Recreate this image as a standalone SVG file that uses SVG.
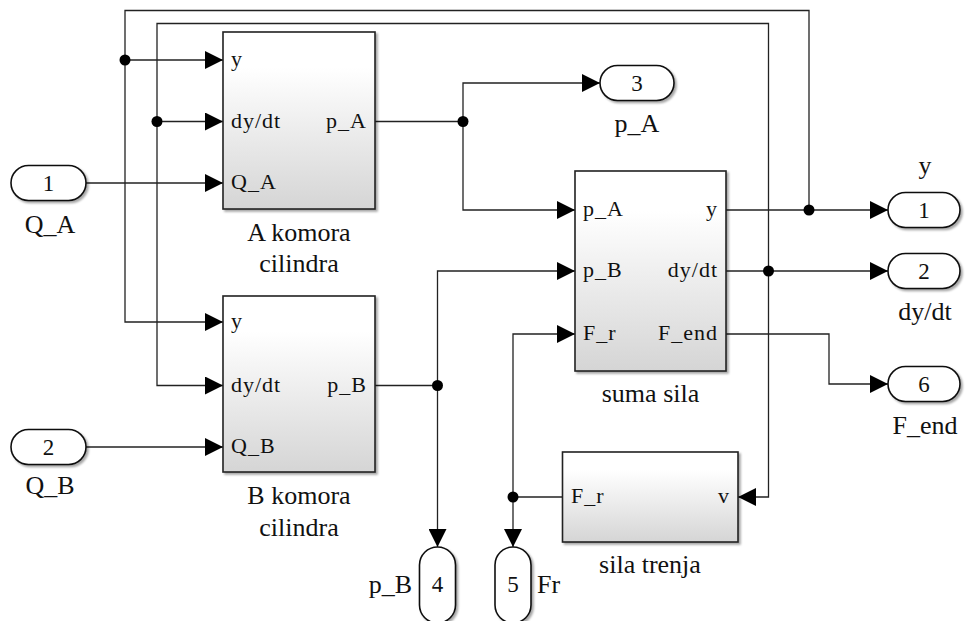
<svg xmlns="http://www.w3.org/2000/svg" width="966" height="621" viewBox="0 0 966 621">
<style>
  text { fill: #111; }
  .port { font-size: 22px; letter-spacing: 1px; }
  .lbl { font-size: 26px; }
  .num { font-size: 23px; text-anchor: middle; }
  .mid { text-anchor: middle; }
  .end { text-anchor: end; }
  .blk { fill: url(#g); stroke: #222; stroke-width: 1.6; filter: url(#sh); }
  .io { fill: #fff; stroke: #111; stroke-width: 1.6; filter: url(#sh); }
  .ln { fill: none; stroke: #222; stroke-width: 1.3; }
  .arr { marker-end: url(#ah); }
  .dot { fill: #000; }
</style>
<defs>
  <linearGradient id="g" x1="0" y1="0" x2="0" y2="1">
    <stop offset="0.2" stop-color="#ffffff"/>
    <stop offset="1" stop-color="#d5d5d5"/>
  </linearGradient>
  <filter id="sh" x="-10%" y="-10%" width="130%" height="130%">
    <feDropShadow dx="2" dy="2" stdDeviation="1.2" flood-color="#000" flood-opacity="0.35"/>
  </filter>
  <marker id="ah" markerUnits="userSpaceOnUse" markerWidth="19" markerHeight="18" refX="18" refY="9" orient="auto">
    <path d="M0,0 L18,9 L0,18 z" fill="#000"/>
  </marker>
</defs>

<g id="connectors">
  <path class="ln arr" d="M86,183 H223"/>
  <path class="ln arr" d="M86,447 H223"/>
  <path class="ln" d="M375,121.5 H463"/>
  <path class="ln arr" d="M463,121.5 V83 H600"/>
  <path class="ln arr" d="M463,121.5 V210 H575"/>
  <path class="ln" d="M375,385.5 H437.5"/>
  <path class="ln arr" d="M437.5,385.5 V271 H575"/>
  <path class="ln arr" d="M437.5,385.5 V547"/>
  <path class="ln arr" d="M726,210 H888"/>
  <path class="ln arr" d="M809,210 V10.5 H125 V322 H223"/>
  <path class="ln arr" d="M125,60 H223"/>
  <path class="ln arr" d="M726,271 H888"/>
  <path class="ln arr" d="M768.5,271 V23.5 H157 V385.5 H223"/>
  <path class="ln arr" d="M157,121.5 H223"/>
  <path class="ln arr" d="M768.5,271 V497 H738"/>
  <path class="ln arr" d="M726,334 H829 V384 H888"/>
  <path class="ln" d="M562.5,497 H513"/>
  <path class="ln arr" d="M513,497 V334 H575"/>
  <path class="ln arr" d="M513,497 V547"/>
  <circle class="dot" cx="463" cy="121.5" r="5.5"/>
  <circle class="dot" cx="437.5" cy="385.5" r="5.5"/>
  <circle class="dot" cx="809" cy="210" r="5.5"/>
  <circle class="dot" cx="125" cy="60" r="5.5"/>
  <circle class="dot" cx="768.5" cy="271" r="5.5"/>
  <circle class="dot" cx="157" cy="121.5" r="5.5"/>
  <circle class="dot" cx="513" cy="497" r="5.5"/>
</g>

<g id="A_komora">
  <rect class="blk" x="223" y="32" width="152" height="177"/>
  <text font-family="Liberation Serif" class="port" x="231" y="66">y</text>
  <text font-family="Liberation Serif" class="port" x="231" y="127.5">dy/dt</text>
  <text font-family="Liberation Serif" class="port" x="231" y="189">Q_A</text>
  <text font-family="Liberation Serif" class="port end" x="367" y="127.5">p_A</text>
  <text font-family="Liberation Serif" class="lbl mid" x="299" y="241">A komora</text>
  <text font-family="Liberation Serif" class="lbl mid" x="299" y="272">cilindra</text>
</g>

<g id="B_komora">
  <rect class="blk" x="223" y="296" width="152" height="176"/>
  <text font-family="Liberation Serif" class="port" x="231" y="328">y</text>
  <text font-family="Liberation Serif" class="port" x="231" y="391.5">dy/dt</text>
  <text font-family="Liberation Serif" class="port" x="231" y="453">Q_B</text>
  <text font-family="Liberation Serif" class="port end" x="367" y="391.5">p_B</text>
  <text font-family="Liberation Serif" class="lbl mid" x="299" y="504">B komora</text>
  <text font-family="Liberation Serif" class="lbl mid" x="299" y="536">cilindra</text>
</g>

<g id="suma_sila">
  <rect class="blk" x="575" y="171" width="151" height="200"/>
  <text font-family="Liberation Serif" class="port" x="583" y="216">p_A</text>
  <text font-family="Liberation Serif" class="port" x="583" y="277">p_B</text>
  <text font-family="Liberation Serif" class="port" x="583" y="340">F_r</text>
  <text font-family="Liberation Serif" class="port end" x="718" y="216">y</text>
  <text font-family="Liberation Serif" class="port end" x="718" y="277">dy/dt</text>
  <text font-family="Liberation Serif" class="port end" x="718" y="340">F_end</text>
  <text font-family="Liberation Serif" class="lbl mid" x="650.5" y="402">suma sila</text>
</g>

<g id="sila_trenja">
  <rect class="blk" x="562.5" y="452" width="175.5" height="90"/>
  <text font-family="Liberation Serif" class="port" x="571" y="503">F_r</text>
  <text font-family="Liberation Serif" class="port end" x="730" y="503">v</text>
  <text font-family="Liberation Serif" class="lbl mid" x="650" y="573">sila trenja</text>
</g>

<g id="in1">
  <rect class="io" x="11" y="165.5" width="75" height="35" rx="17.5"/>
  <text font-family="Liberation Serif" class="num" x="48.5" y="191">1</text>
  <text font-family="Liberation Serif" class="lbl mid" x="50" y="233">Q_A</text>
</g>

<g id="in2">
  <rect class="io" x="11" y="429.5" width="75" height="35" rx="17.5"/>
  <text font-family="Liberation Serif" class="num" x="48.5" y="455">2</text>
  <text font-family="Liberation Serif" class="lbl mid" x="50" y="494">Q_B</text>
</g>

<g id="out3">
  <rect class="io" x="600" y="65.5" width="74" height="35" rx="17.5"/>
  <text font-family="Liberation Serif" class="num" x="637" y="91">3</text>
  <text font-family="Liberation Serif" class="lbl mid" x="637" y="132">p_A</text>
</g>

<g id="out1">
  <rect class="io" x="888" y="192.5" width="72" height="35" rx="17.5"/>
  <text font-family="Liberation Serif" class="num" x="924" y="218">1</text>
  <text font-family="Liberation Serif" class="lbl mid" x="925" y="174">y</text>
</g>

<g id="out2">
  <rect class="io" x="888" y="253.5" width="72" height="35" rx="17.5"/>
  <text font-family="Liberation Serif" class="num" x="924" y="279">2</text>
  <text font-family="Liberation Serif" class="lbl mid" x="925" y="320">dy/dt</text>
</g>

<g id="out6">
  <rect class="io" x="888" y="366.5" width="72" height="35" rx="17.5"/>
  <text font-family="Liberation Serif" class="num" x="924" y="392">6</text>
  <text font-family="Liberation Serif" class="lbl mid" x="925" y="434">F_end</text>
</g>

<g id="out4">
  <rect class="io" x="419.5" y="547" width="36" height="76" rx="18"/>
  <text font-family="Liberation Serif" class="num" x="437.5" y="592">4</text>
  <text font-family="Liberation Serif" class="lbl end" x="412" y="593">p_B</text>
</g>

<g id="out5">
  <rect class="io" x="495" y="547" width="36" height="76" rx="18"/>
  <text font-family="Liberation Serif" class="num" x="513" y="592">5</text>
  <text font-family="Liberation Serif" class="lbl" x="537" y="593">Fr</text>
</g>
</svg>
